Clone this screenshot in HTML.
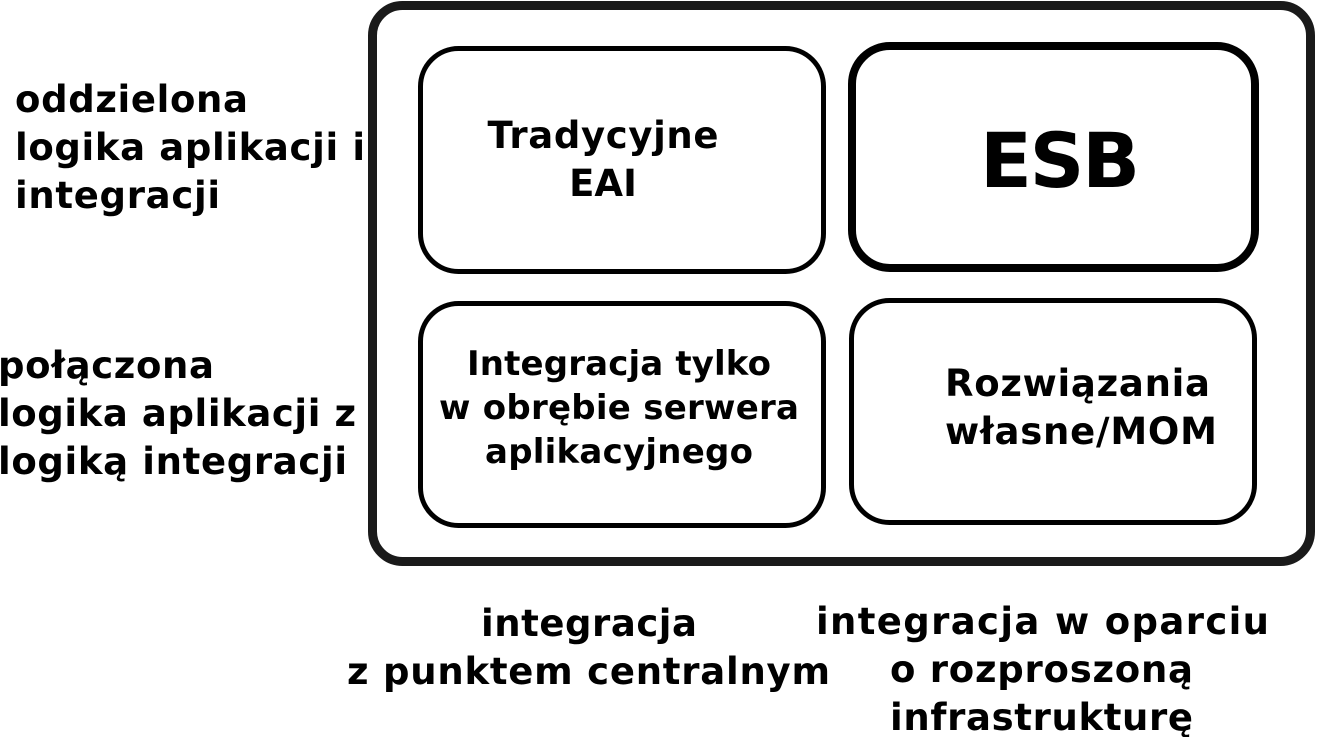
<!DOCTYPE html>
<html><head><meta charset="utf-8"><style>
html,body{margin:0;padding:0;background:#fff;}
svg{display:block;}
text{font-family:"DejaVu Sans","Liberation Sans",sans-serif;font-weight:bold;fill:#000;}
</style></head><body>
<svg width="1318" height="737" viewBox="0 0 1318 737" xmlns="http://www.w3.org/2000/svg">
<rect x="372.5" y="5.5" width="938" height="556" rx="30" fill="#fff" stroke="#1a1a1a" stroke-width="9"/>
<rect x="420.5" y="48.5" width="403" height="223" rx="38" fill="#fff" stroke="#000" stroke-width="5"/>
<rect x="852" y="46" width="403" height="222" rx="38" fill="#fff" stroke="#000" stroke-width="8"/>
<rect x="420.5" y="303.5" width="403" height="222" rx="38" fill="#fff" stroke="#000" stroke-width="5"/>
<rect x="851.5" y="300.5" width="403" height="222" rx="38" fill="#fff" stroke="#000" stroke-width="5"/>

<g font-size="37">
<text x="15" y="112" textLength="233">oddzielona</text>
<text x="15" y="160" textLength="350">logika aplikacji i</text>
<text x="15" y="208" textLength="205">integracji</text>
<text x="-2" y="378" textLength="216">połączona</text>
<text x="-2" y="426" textLength="358">logika aplikacji z</text>
<text x="-2" y="474" textLength="349">logiką integracji</text>

<text x="603" y="148" text-anchor="middle" textLength="231">Tradycyjne</text>
<text x="603" y="196" text-anchor="middle">EAI</text>

<text x="945" y="396" textLength="265">Rozwiązania</text>
<text x="945" y="444" textLength="272">własne/MOM</text>

<text x="589" y="636" text-anchor="middle" textLength="216">integracja</text>
<text x="347" y="684" textLength="483">z punktem centralnym</text>
<text x="816" y="634" textLength="453">integracja w  oparciu</text>
<text x="890" y="682" textLength="303">o rozproszoną</text>
<text x="890" y="730" textLength="303">infrastrukturę</text>
</g>
<g font-size="34">
<text x="619" y="375" text-anchor="middle" textLength="304">Integracja tylko</text>
<text x="619" y="419" text-anchor="middle" textLength="360">w obrębie serwera</text>
<text x="619" y="463" text-anchor="middle" textLength="268">aplikacyjnego</text>
</g>
<text x="1060" y="187" font-size="76" text-anchor="middle" textLength="160">ESB</text>
</svg>
</body></html>
